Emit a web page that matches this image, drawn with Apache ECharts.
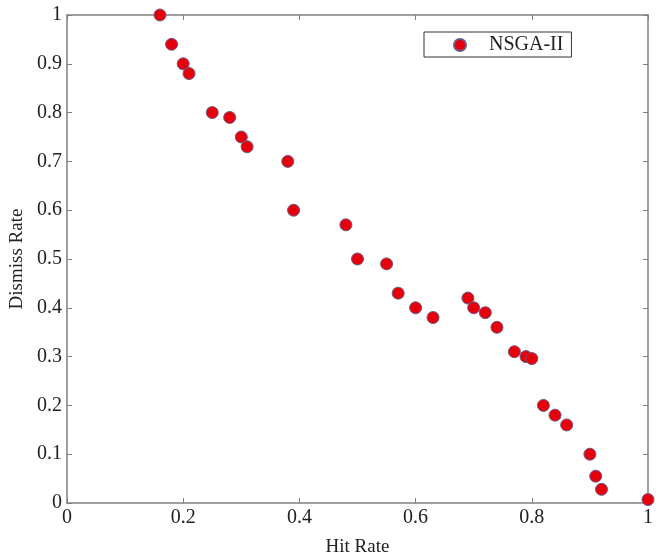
<!DOCTYPE html>
<html>
<head>
<meta charset="utf-8">
<script src="https://cdn.jsdelivr.net/npm/echarts@6/dist/echarts.min.js"></script>
<style>html,body{margin:0;padding:0;background:#fff;}#c{width:660px;height:558px;}</style>
</head>
<body>
<div id="c"></div>
<script>
var seriesName = 'NSGA-II';
var hitRate = [0.16, 0.18, 0.20, 0.21, 0.25, 0.28, 0.30, 0.31, 0.38, 0.39, 0.48, 0.50, 0.55, 0.57, 0.60, 0.63, 0.69, 0.70, 0.72, 0.74, 0.77, 0.79, 0.80, 0.82, 0.84, 0.86, 0.90, 0.91, 0.92, 1.00];
var dismissRate = [1.00, 0.94, 0.90, 0.88, 0.80, 0.79, 0.75, 0.73, 0.70, 0.60, 0.57, 0.50, 0.49, 0.43, 0.40, 0.38, 0.42, 0.40, 0.39, 0.36, 0.31, 0.30, 0.296, 0.20, 0.18, 0.16, 0.10, 0.055, 0.028, 0.007];
var xLabel = 'Hit Rate';
var yLabel = 'Dismiss Rate';

var pts = hitRate.map(function (x, i) { return [x, dismissRate[i]]; });
var font = 'Liberation Serif';
var axisCol = '#808080';
function fmt(v) { return v === 0 ? '0' : (v === 1 ? '1' : String(+v.toFixed(1))); }

var chart = echarts.init(document.getElementById('c'), null, {renderer: 'canvas'});
chart.setOption({
  animation: false,
  backgroundColor: '#fff',
  grid: {left: 67, right: 12, top: 15, bottom: 55, containLabel: false, outerBoundsMode: 'none'},
  legend: {
    left: 424, top: 32,
    data: [{name: seriesName, icon: 'circle'}],
    itemWidth: 48, itemHeight: 12,
    padding: [3, 8, 2, 29],
    borderColor: '#333', borderWidth: 1,
    textStyle: {fontFamily: font, fontSize: 20, color: '#222'}
  },
  xAxis: [{
    type: 'value', min: 0, max: 1, interval: 0.2, position: 'bottom',
    name: xLabel, nameLocation: 'middle', nameGap: 35,
    nameTextStyle: {fontFamily: font, fontSize: 19, color: '#222'},
    axisLine: {show: true, onZero: false, lineStyle: {color: axisCol, width: 1.5}},
    axisTick: {show: true, inside: true, length: 5, lineStyle: {color: axisCol}},
    axisLabel: {fontFamily: font, fontSize: 20, color: '#222', margin: 5, formatter: fmt},
    splitLine: {show: false}
  }, {
    type: 'value', min: 0, max: 1, interval: 0.2, position: 'top',
    axisLine: {show: true, onZero: false, lineStyle: {color: axisCol, width: 1.5}},
    axisTick: {show: true, inside: true, length: 5, lineStyle: {color: axisCol}},
    axisLabel: {show: false}, splitLine: {show: false}
  }],
  yAxis: [{
    type: 'value', min: 0, max: 1, interval: 0.1, position: 'left',
    name: yLabel, nameLocation: 'middle', nameGap: 33, nameRotate: 90,
    nameTextStyle: {fontFamily: font, fontSize: 19, color: '#222'},
    axisLine: {show: true, onZero: false, lineStyle: {color: axisCol, width: 1.5}},
    axisTick: {show: true, inside: true, length: 5, lineStyle: {color: axisCol}},
    axisLabel: {fontFamily: font, fontSize: 20, color: '#222', margin: 5, formatter: fmt},
    splitLine: {show: false}
  }, {
    type: 'value', min: 0, max: 1, interval: 0.1, position: 'right',
    axisLine: {show: true, onZero: false, lineStyle: {color: axisCol, width: 1.5}},
    axisTick: {show: true, inside: true, length: 5, lineStyle: {color: axisCol}},
    axisLabel: {show: false}, splitLine: {show: false}
  }],
  series: [{
    name: seriesName, type: 'scatter', xAxisIndex: 0, yAxisIndex: 0,
    data: pts, symbol: 'circle', symbolSize: 12,
    itemStyle: {color: '#e6000b', borderColor: '#6e5a80', borderWidth: 1, opacity: 1}
  }, {
    name: 'mirror', type: 'scatter', xAxisIndex: 1, yAxisIndex: 1,
    data: [], silent: true
  }]
});
</script>
</body>
</html>
